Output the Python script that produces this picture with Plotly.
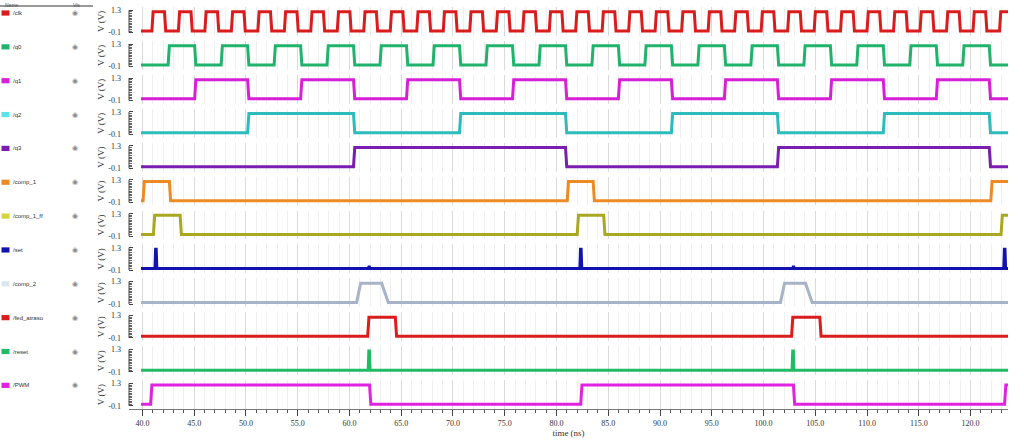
import plotly.graph_objects as go

# ---------------- data ----------------
signal_names = ["/clk", "/q0", "/q1", "/q2", "/q3", "/comp_1", "/comp_1_ff",
                "/set", "/comp_2", "/fed_atraso", "/reset", "/PWM"]
line_colors = ["#d91c1c", "#1fb36b", "#d81fd8", "#2dbcbc", "#7a1db0", "#ee8a24",
               "#a9a820", "#1212b0", "#a6b3c8", "#d91c1c", "#21bb66", "#e122e1"]
swatch_colors = ["#d91c1c", "#1fb36b", "#d81fd8", "#5ce3ea", "#7a1db0", "#ee8a24",
                 "#d6d43c", "#1212b0", "#dce6f0", "#d91c1c", "#21bb66", "#e122e1"]

LOW = 0.0
HIGH = 1.2

# toggle times (ns); every signal starts low
clk_edges = [40.97, 42.19, 43.53, 44.75, 46.09, 47.31, 48.65, 49.87, 51.21, 52.43,
             53.77, 54.99, 56.32, 57.54, 58.88, 60.10, 61.44, 62.66, 64.00, 65.22,
             66.56, 67.78, 69.12, 70.34, 71.68, 72.90, 74.24, 75.46, 76.80, 78.02,
             79.36, 80.58, 81.91, 83.13, 84.47, 85.69, 87.03, 88.25, 89.59, 90.81,
             92.15, 93.37, 94.71, 95.93, 97.27, 98.49, 99.83, 101.05, 102.39, 103.61,
             104.95, 106.17, 107.50, 108.72, 110.06, 111.28, 112.62, 113.84, 115.18, 116.40,
             117.74, 118.96, 120.30, 121.52, 122.86]
q0_edges = [42.54, 45.10, 47.66, 50.22, 52.78, 55.34, 57.89, 60.45, 63.01, 65.57,
            68.13, 70.69, 73.25, 75.81, 78.37, 80.93, 83.48, 86.04, 88.60, 91.16,
            93.72, 96.28, 98.84, 101.40, 103.96, 106.52, 109.07, 111.63, 114.19, 116.75,
            119.31, 121.87]
q1_edges = [45.10, 50.22, 55.34, 60.45, 65.57, 70.69, 75.81, 80.93, 86.04, 91.16,
            96.28, 101.40, 106.52, 111.63, 116.75, 121.87]
q2_edges = [50.22, 60.45, 70.69, 80.93, 91.16, 101.40, 111.63, 121.87]
q3_edges = [60.45, 80.93, 101.40, 121.87]
comp_1_edges = [40.12, 42.66, 81.10, 83.60, 122.02]
comp_1_ff_edges = [41.12, 43.70, 82.06, 84.62, 123.01]
set_pulses = [41.30, 82.35, 123.30]
set_blips = [61.90, 102.90]
comp_2_t = [60.69, 61.08, 63.11, 63.75, 101.64, 102.03, 104.06, 104.70]
comp_2_v = [0.0, 1.2, 1.2, 0.0, 0.0, 1.2, 1.2, 0.0]
fed_atraso_edges = [61.82, 64.49, 102.77, 105.50]
reset_pulses = [61.90, 102.85]
pwm_edges = [40.85, 62.00, 82.40, 102.95, 123.35]

x_tick_vals = [40, 45, 50, 55, 60, 65, 70, 75, 80, 85, 90, 95, 100, 105, 110, 115, 120]
x_tick_text = ["40.0", "45.0", "50.0", "55.0", "60.0", "65.0", "70.0", "75.0", "80.0",
               "85.0", "90.0", "95.0", "100.0", "105.0", "110.0", "115.0", "120.0"]
y_tick_vals = [-0.1, 1.3]
y_tick_text = ["-0.1", "1.3"]

T_START = 39.86
T_END = 123.62
X_RANGE = [38.70, 123.62]

# ---------------- waveform builders ----------------
def step_xy(edges, tr=0.12):
    xs, ys, lvl = [T_START], [LOW], 0
    for e in edges:
        a = LOW if lvl == 0 else HIGH
        b = HIGH if lvl == 0 else LOW
        xs += [e - tr / 2, e + tr / 2]
        ys += [a, b]
        lvl ^= 1
    xs.append(T_END)
    ys.append(ys[-1])
    return xs, ys


def pulse_xy(times, amp=HIGH, tr=0.06, w=0.06, extra=None):
    pts = [(t, amp) for t in times]
    if extra:
        pts += extra
    pts.sort()
    xs, ys = [T_START], [LOW]
    for t, a in pts:
        xs += [t - w / 2 - tr, t - w / 2, t + w / 2, t + w / 2 + tr]
        ys += [LOW, a, a, LOW]
    xs.append(T_END)
    ys.append(LOW)
    return xs, ys


def points_xy(ts, vs):
    return [T_START] + list(ts) + [T_END], [LOW] + list(vs) + [LOW]


waves = [
    step_xy(clk_edges),
    step_xy(q0_edges),
    step_xy(q1_edges),
    step_xy(q2_edges),
    step_xy(q3_edges),
    step_xy(comp_1_edges),
    step_xy(comp_1_ff_edges),
    pulse_xy(set_pulses, extra=[(t, 0.1) for t in set_blips]),
    points_xy(comp_2_t, comp_2_v),
    step_xy(fed_atraso_edges),
    pulse_xy(reset_pulses),
    step_xy(pwm_edges),
]

# ---------------- layout geometry ----------------
W, H = 1024, 442
ML, MR, MT, MB = 129, 16, 7, 33
PW = W - ML - MR
PH = H - MT - MB
N = len(signal_names)
ROW_H = 28.8
GAP = (PH - N * ROW_H) / (N - 1)


def px(x):
    return (x - ML) / PW


def py(y):
    return 1 - (y - MT) / PH


serif = "Liberation Serif"
sans = "Liberation Sans"

fig = go.Figure()
layout = {}
shapes = []
annotations = []

for i in range(N):
    xs, ys = waves[i]
    xname = "x" if i == 0 else f"x{i+1}"
    yname = "y" if i == 0 else f"y{i+1}"
    fig.add_trace(go.Scatter(x=xs, y=ys, mode="lines", xaxis=xname, yaxis=yname,
                             line=dict(color=line_colors[i], width=3),
                             showlegend=False, hoverinfo="skip"))
    top = i * (ROW_H + GAP)
    dom = [1 - (top + ROW_H) / PH, 1 - top / PH]
    bottom = (i == N - 1)
    xa = dict(domain=[0, 1], range=X_RANGE, anchor=yname,
              tickmode="array", tickvals=x_tick_vals, ticktext=x_tick_text,
              showgrid=True, gridcolor="#dadada", gridwidth=1, zeroline=False,
              minor=dict(tickmode="array", tickvals=list(range(40, 124)),
                         showgrid=True, gridcolor="#efefef",
                         ticks="outside" if bottom else "", ticklen=3,
                         tickcolor="#555"),
              ticks="outside" if bottom else "", ticklen=6, tickcolor="#444",
              showticklabels=bottom, showline=bottom, linecolor="#777", linewidth=1,
              tickfont=dict(family=serif, size=8, color="#333"))
    if bottom:
        xa["title"] = dict(text="time (ns)", font=dict(family=serif, size=9, color="#333"),
                           standoff=1)
    if i > 0:
        xa["matches"] = "x"
    ya = dict(domain=dom, range=[-0.3, 1.5], anchor=xname,
              tickmode="array", tickvals=y_tick_vals, ticktext=y_tick_text,
              ticks="inside", ticklen=4, tickcolor="#444",
              ticklabelstandoff=7,
              showgrid=False, zeroline=False, showline=False,
              minor=dict(tickmode="array",
                         tickvals=[-0.1, 0.0, 0.1, 0.2, 0.3, 0.4, 0.5, 0.6, 0.7,
                                   0.8, 0.9, 1.0, 1.1, 1.2, 1.3],
                         ticks="inside", ticklen=3, tickcolor="#666"),
              tickfont=dict(family=serif, size=8, color="#333"),
              title=dict(text="V (V)", font=dict(family=serif, size=9, color="#333"),
                         standoff=2))
    layout["xaxis" if i == 0 else f"xaxis{i+1}"] = xa
    layout["yaxis" if i == 0 else f"yaxis{i+1}"] = ya

    # axis spine from -0.1 to 1.3
    shapes.append(dict(type="line", xref="paper", yref=yname, x0=0, x1=0,
                       y0=-0.1, y1=1.3, line=dict(color="#444", width=1)))

    # left name panel
    cy = 13 + 33.85 * i
    shapes.append(dict(type="rect", xref="paper", yref="paper",
                       x0=px(1.5), x1=px(9.5), y0=py(cy + 2.6), y1=py(cy - 2.6),
                       fillcolor=swatch_colors[i], line=dict(width=0)))
    annotations.append(dict(text=signal_names[i], xref="paper", yref="paper",
                            x=px(11), y=py(cy), xanchor="left", yanchor="middle",
                            showarrow=False, font=dict(family=sans, size=6, color="#333")))
    annotations.append(dict(text="◉", xref="paper", yref="paper",
                            x=px(75), y=py(cy), xanchor="center", yanchor="middle",
                            showarrow=False, font=dict(family="DejaVu Sans", size=7, color="#8a8a8a")))

# header of the name panel
shapes.append(dict(type="line", xref="paper", yref="paper", x0=px(0), x1=px(93),
                   y0=py(6.0), y1=py(6.0), line=dict(color="#333", width=1)))
annotations.append(dict(text="Name", xref="paper", yref="paper", x=px(3), y=py(0.2),
                        xanchor="left", yanchor="top", showarrow=False,
                        font=dict(family=sans, size=5, color="#555")))
annotations.append(dict(text="Vis", xref="paper", yref="paper", x=px(71), y=py(0.2),
                        xanchor="left", yanchor="top", showarrow=False,
                        font=dict(family=sans, size=5, color="#555")))

fig.update_layout(**layout)
fig.update_layout(width=W, height=H, autosize=False,
                  margin=dict(l=ML, r=MR, t=MT, b=MB, pad=0),
                  paper_bgcolor="white", plot_bgcolor="white",
                  shapes=shapes, annotations=annotations,
                  showlegend=False)

fig.write_html("out.html", config={"displayModeBar": False})
